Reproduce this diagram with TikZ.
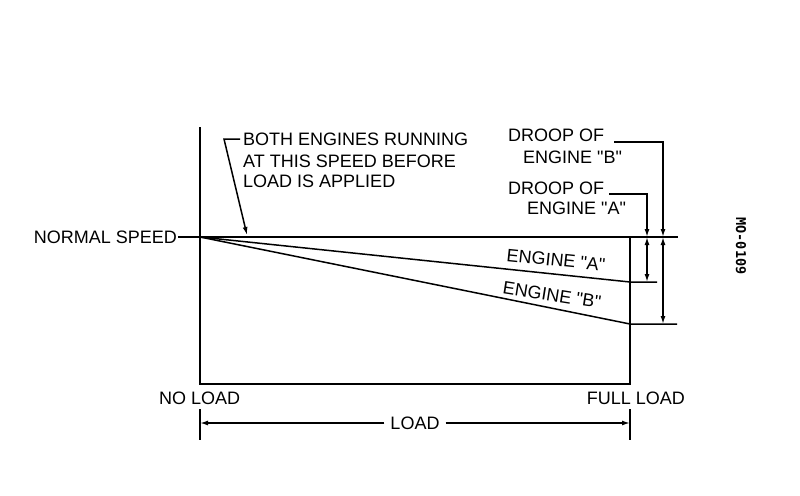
\documentclass[tikz,border=0pt]{standalone}
\usepackage{fontspec}
\newfontfamily\lblf{Liberation Sans}
\newfontfamily\monof{DejaVu Sans Mono}
\usetikzlibrary{arrows.meta}
\begin{document}
\begin{tikzpicture}[x=1pt,y=-1pt,
  ln/.style={line width=1.5pt},
  lbl/.style={font=\lblf\fontsize{18}{21}\selectfont, inner sep=0pt},
  tipend/.style={-{Latex[length=8pt,width=5pt]}},
  tipboth/.style={{Latex[length=8pt,width=5pt]}-{Latex[length=8pt,width=5pt]}},
]
\useasboundingbox (0,0) rectangle (800,495);
\fill[white] (0,0) rectangle (800,495);

% key points
\coordinate (O) at (200,237);
\coordinate (VT) at (200,127);
\coordinate (BL) at (200,384);
\coordinate (BR) at (630,384);
\coordinate (TR) at (630,237);
\coordinate (TE) at (678,237);
\coordinate (AE) at (630,282);
\coordinate (AX) at (657,282);
\coordinate (BE) at (630,324);
\coordinate (BX) at (677,324);

% normal speed
\node[lbl, anchor=east] (ns) at (177,237) {NORMAL SPEED};
\draw[ln, shorten <=1pt] (ns.east) -- (TE);

% frame
\draw[ln] (VT) -- (BL) -- (BR) -- (TR);

% engine lines
\draw[ln] (O) -- (AE) -- (AX);
\draw[ln] (O) -- (BE) -- (BX);
\node[lbl, rotate=-6] (ea) at (556,260) {ENGINE "A"};
\node[lbl, rotate=-9] (eb) at (552,295) {ENGINE "B"};

% both engines note
\node[lbl, anchor=west] (b1) at (243,139) {BOTH ENGINES RUNNING};
\node[lbl, anchor=west] (b2) at (243,161) {AT THIS SPEED BEFORE};
\node[lbl, anchor=west] (b3) at (243,181) {LOAD IS APPLIED};
\coordinate (bk) at (224,139);
\coordinate (bt) at (247,235);
\draw[ln, tipend, shorten <=3pt] (b1.west) -- (bk) -- (bt);

% droop of engine B
\node[lbl, anchor=west] (db1) at (508,135) {DROOP OF};
\node[lbl, anchor=west] (db2) at (523,157) {ENGINE "B"};
\coordinate (dbl) at (614,142);
\coordinate (dbc) at (663,142);
\coordinate (dbt) at (663,237);
\coordinate (dbb) at (663,324);
\draw[ln, tipend] (dbl) -- (dbc) -- (dbt);
\draw[ln, tipboth] (dbt) -- (dbb);

% droop of engine A
\node[lbl, anchor=west] (da1) at (508,188) {DROOP OF};
\node[lbl, anchor=west] (da2) at (527,208) {ENGINE "A"};
\coordinate (dal) at (609,194);
\coordinate (dac) at (647,194);
\coordinate (dat) at (647,237);
\coordinate (dab) at (647,282);
\draw[ln, tipend] (dal) -- (dac) -- (dat);
\draw[ln, tipboth] (dat) -- (dab);

% load axis
\node[lbl, anchor=west] (nl) at (159,398) {NO LOAD};
\node[lbl, anchor=east] (fl) at (685,398) {FULL LOAD};
\coordinate (el1) at (200,409);
\coordinate (el2) at (200,440);
\coordinate (er1) at (630,409);
\coordinate (er2) at (630,440);
\draw[ln] (el1) -- (el2);
\draw[ln] (er1) -- (er2);
\coordinate (dl) at (200,423);
\coordinate (dr) at (630,423);
\node[lbl] (ld) at (415,423) {LOAD};
\draw[ln, tipend, shorten <=6pt] (ld.west) -- (dl);
\draw[ln, tipend, shorten <=6pt] (ld.east) -- (dr);

% drawing number
\node[font=\monof\bfseries\fontsize{13.5}{14}\selectfont, inner sep=0pt, rotate=-90] (mo) at (741,246) {MO-0109};
\end{tikzpicture}
\end{document}
